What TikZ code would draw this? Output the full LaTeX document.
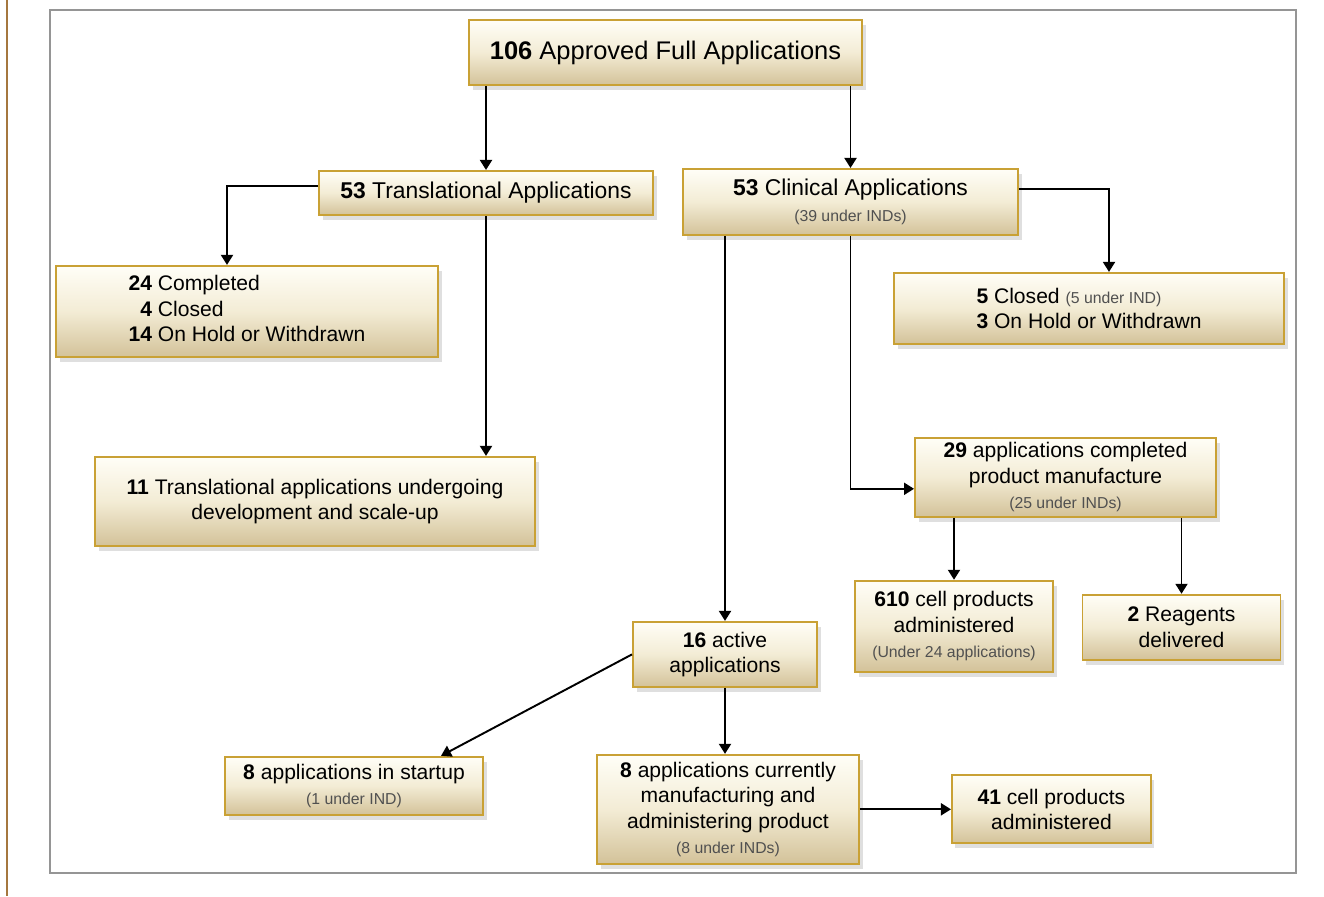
\documentclass[tikz,border=0pt]{standalone}
\usepackage{fontspec}
\setmainfont{Liberation Sans}
\usepackage{xcolor}
\usepackage{tikz}
\usetikzlibrary{positioning, arrows.meta, shadows}

\definecolor{boxedge}{HTML}{C9A135}
\definecolor{boxtop}{HTML}{FFFEF7}
\definecolor{boxmid}{HTML}{F3ECD5}
\definecolor{boxbot}{HTML}{D3C299}
\definecolor{framegray}{HTML}{959595}
\definecolor{sidebrown}{HTML}{A5773F}
\definecolor{notegray}{HTML}{505050}

\newcommand{\undernote}[1]{{\fontsize{9}{11}\selectfont\color{notegray}#1}}

\begin{document}
\begin{tikzpicture}[
        every node/.style={font=\fontsize{12}{14.5}\selectfont},
        box/.style={draw=boxedge, line width=1.1pt, top color=boxtop, bottom color=boxbot, middle color=boxmid,
                    align=center, inner sep=2pt,
                    drop shadow={shadow xshift=0.07cm, shadow yshift=-0.1cm, opacity=0.25}},
        arrow/.style={-{Triangle[length=0.2cm, width=0.24cm]}, line width=1.1pt}
    ]
    \useasboundingbox (0,0) rectangle (26.48,-17.92);

    % page edge and frame
    \draw[sidebrown, line width=1.2pt] (0.14,0) -- (0.14,-17.92);
    \draw[framegray, line width=0.8pt] (1.0,-0.2) rectangle (25.92,-17.46);

    % Nodes -----------------------------------------------
    \node[box, minimum width=7.86cm, minimum height=1.3cm, font=\fontsize{14.5}{17}\selectfont] (total) at (13.31,-1.05) {\textbf{106} Approved Full Applications};
    \node[box, minimum width=6.68cm, minimum height=0.88cm, font=\fontsize{13}{15}\selectfont, below=1.68cm of total, xshift=-3.59cm] (trans) {\textbf{53} Translational Applications};
    \node[box, minimum width=6.7cm, minimum height=1.32cm, font=\fontsize{13}{15}\selectfont, below=1.64cm of total, xshift=3.7cm] (clin) {\textbf{53} Clinical Applications\\\undernote{(39 under INDs)}};

    \node[box, minimum width=7.64cm, minimum height=1.82cm, below=0.98cm of trans, xshift=-4.78cm] (done) {\begin{tabular}{@{}r@{~}l@{}}\textbf{24} & Completed\\ \textbf{4} & Closed\\ \textbf{14} & On Hold or Withdrawn\end{tabular}};
    \node[box, minimum width=8.8cm, minimum height=1.78cm, below=4.8cm of trans, xshift=-3.42cm] (scale) {\textbf{11} Translational applications undergoing\\development and scale-up};

    \node[box, minimum width=7.8cm, minimum height=1.42cm, align=left, below=0.72cm of clin, xshift=4.77cm] (closed) {\textbf{5} Closed \undernote{(5 under IND)}\\\textbf{3} On Hold or Withdrawn};
    \node[box, minimum width=6.02cm, minimum height=1.58cm, below=1.84cm of closed, xshift=-0.47cm] (manuf) {\textbf{29} applications completed\\product manufacture\\\undernote{(25 under INDs)}};
    \node[box, minimum width=3.96cm, minimum height=1.82cm, below=1.24cm of manuf, xshift=-2.23cm] (given) {\textbf{610} cell products\\administered\\\undernote{(Under 24 applications)}};
    \node[box, minimum width=3.96cm, minimum height=1.3cm, below=1.52cm of manuf, xshift=2.32cm] (reagents) {\textbf{2} Reagents\\delivered};

    \node[box, minimum width=3.68cm, minimum height=1.3cm, below=7.7cm of clin, xshift=-2.51cm] (active) {\textbf{16} active\\applications};
    \node[box, minimum width=5.16cm, minimum height=1.16cm, below=1.36cm of active, xshift=-7.42cm] (startup) {\textbf{8} applications in startup\\\undernote{(1 under IND)}};
    \node[box, minimum width=5.24cm, minimum height=2.18cm, below=1.32cm of active, xshift=0.06cm] (now) {\textbf{8} applications currently\\manufacturing and\\administering product\\\undernote{(8 under INDs)}};
    \node[box, minimum width=3.98cm, minimum height=1.36cm, right=1.82cm of now] (dosed) {\textbf{41} cell products\\administered};

    % top split
    \draw[arrow] (total.south -| trans.north) -- (trans.north);
    \draw[arrow] (total.south -| clin.north) -- (clin.north);

    % translational branch
    \draw[arrow] ([yshift=0.14cm]trans.west) -| ([xshift=-0.4cm]done.north);
    \draw[arrow] (trans.south) -- (trans.south |- scale.north);

    % clinical branch
    \draw[arrow] ([yshift=0.26cm]clin.east) -| ([xshift=0.4cm]closed.north);
    \draw[arrow] (clin.south) |- ([yshift=-0.23cm]manuf.west);
    \draw[arrow] (clin.south -| active.north) -- (active.north);
    \draw[arrow] (manuf.south -| given.north) -- (given.north);
    \draw[arrow] (manuf.south -| reagents.north) -- (reagents.north);

    % active applications
    \draw[arrow] (active.west) -- (startup.19);
    \draw[arrow] (active.south) -- (active.south |- now.north);
    \draw[arrow] (now) -- (dosed);
\end{tikzpicture}
\end{document}
